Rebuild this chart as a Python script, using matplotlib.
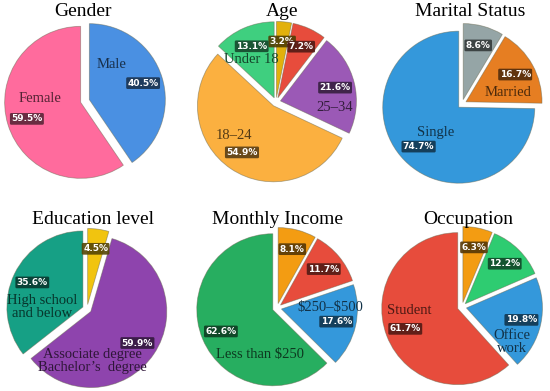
import matplotlib
matplotlib.use("Agg")
import matplotlib.pyplot as plt
import matplotlib.colors as mcolors
import numpy as np

# ---- data ----------------------------------------------------------------
gender_labels = ["Male", "Female"]
gender_vals = [40.5, 59.5]

age_labels = ["", "", "25–34", "18–24", "Under 18"]
age_vals = [3.2, 7.2, 21.6, 54.9, 13.1]

marital_labels = ["", "Married", "Single"]
marital_vals = [8.6, 16.7, 74.7]

edu_labels = ["", "Associate degree\nBachelor\u2019s  degree", "High school\nand below"]
edu_vals = [4.5, 59.9, 35.6]

income_labels = ["", "", "$250–$500", "Less than $250"]
income_vals = [8.1, 11.7, 17.6, 62.6]

occ_labels = ["", "", "Office\nwork", "Student"]
occ_vals = [6.3, 12.2, 19.8, 61.7]

# ---- styling -------------------------------------------------------------
PANELS = [
    # title, labels, values, colours, label offsets (from pct box), centre px, title px
    ("Gender", gender_labels, gender_vals, ["#4a90e2", "#ff6b9d"],
     [(-0.41, 0.25), (0.17, 0.27)], (85, 101), (83, 12)),
    ("Age", age_labels, age_vals,
     ["#e2b10c", "#e74c3c", "#9b59b6", "#fbb040", "#3fcf7f"],
     [(0, 0), (0, 0), (0, -0.26), (-0.1, 0.22), (0, -0.18)], (276, 102), (282, 12)),
    ("Marital Status", marital_labels, marital_vals, ["#95a5a6", "#e67e22", "#3498db"],
     [(0, 0), (-0.09, -0.23), (0.23, 0.18)], (462, 104), (470, 12)),
    ("Education level", edu_labels, edu_vals, ["#f1c40f", "#8e44ad", "#16a085"],
     [(0, 0), (-0.59, -0.24), (0.13, -0.32)], (87, 309), (93, 219)),
    ("Monthly Income", income_labels, income_vals,
     ["#f39c12", "#e74c3c", "#3498db", "#27ae60"],
     [(0, 0), (0, 0), (-0.08, 0.19), (0.51, -0.3)], (277, 308), (277, 220)),
    ("Occupation", occ_labels, occ_vals, ["#f39c12", "#2ecc71", "#3498db", "#e74c3c"],
     [(0, 0), (0, 0), (-0.13, -0.29), (0.05, 0.24)], (462, 307), (468, 220)),
]

W, H = 550, 391
R_PX = 76
LIM = 1.16
EXPLODE = 0.06
PCT_R = 0.74
SERIF = ["Liberation Serif", "DejaVu Serif"]


def darker(c, f=0.35):
    r, g, b = mcolors.to_rgb(c)
    return (r * f, g * f, b * f)


fig = plt.figure(figsize=(W / 100, H / 100), dpi=100)

for title, labels, vals, cols, offs, (cx, cy), (tx, ty) in PANELS:
    half = R_PX * LIM
    ax = fig.add_axes([(cx - half) / W, (H - cy - half) / H, 2 * half / W, 2 * half / H])
    ax.pie(vals, colors=cols, startangle=90, counterclock=False,
           explode=[EXPLODE] * len(vals), radius=1,
           wedgeprops=dict(edgecolor=(0.4, 0.4, 0.3, 0.5), linewidth=0.6))
    ax.set_xlim(-LIM, LIM)
    ax.set_ylim(-LIM, LIM)
    ax.set_aspect("equal")
    ax.axis("off")

    total = float(sum(vals))
    cum = 0.0
    for lab, v, c, (dx, dy) in zip(labels, vals, cols, offs):
        frac = v / total
        ang = np.deg2rad(90 - 360 * (cum + frac / 2))
        cum += frac
        r = PCT_R + EXPLODE
        px, py = r * np.cos(ang), r * np.sin(ang)
        ax.text(px, py, f"{v:.1f}%", ha="center", va="center", fontsize=6.5,
                fontweight="bold", color="white",
                bbox=dict(boxstyle="round,pad=0.15", fc=darker(c), ec="none", alpha=0.9))
        if lab:
            ax.text(px + dx, py + dy, lab, ha="center", va="center", fontsize=10.5,
                    family=SERIF, color=darker(c, 0.33), linespacing=1.0,
                    parse_math=False)

    fig.text(tx / W, 1 - ty / H, title, ha="center", va="center", fontsize=14,
             family=SERIF, color="black")

fig.savefig("out.png", dpi=100)
